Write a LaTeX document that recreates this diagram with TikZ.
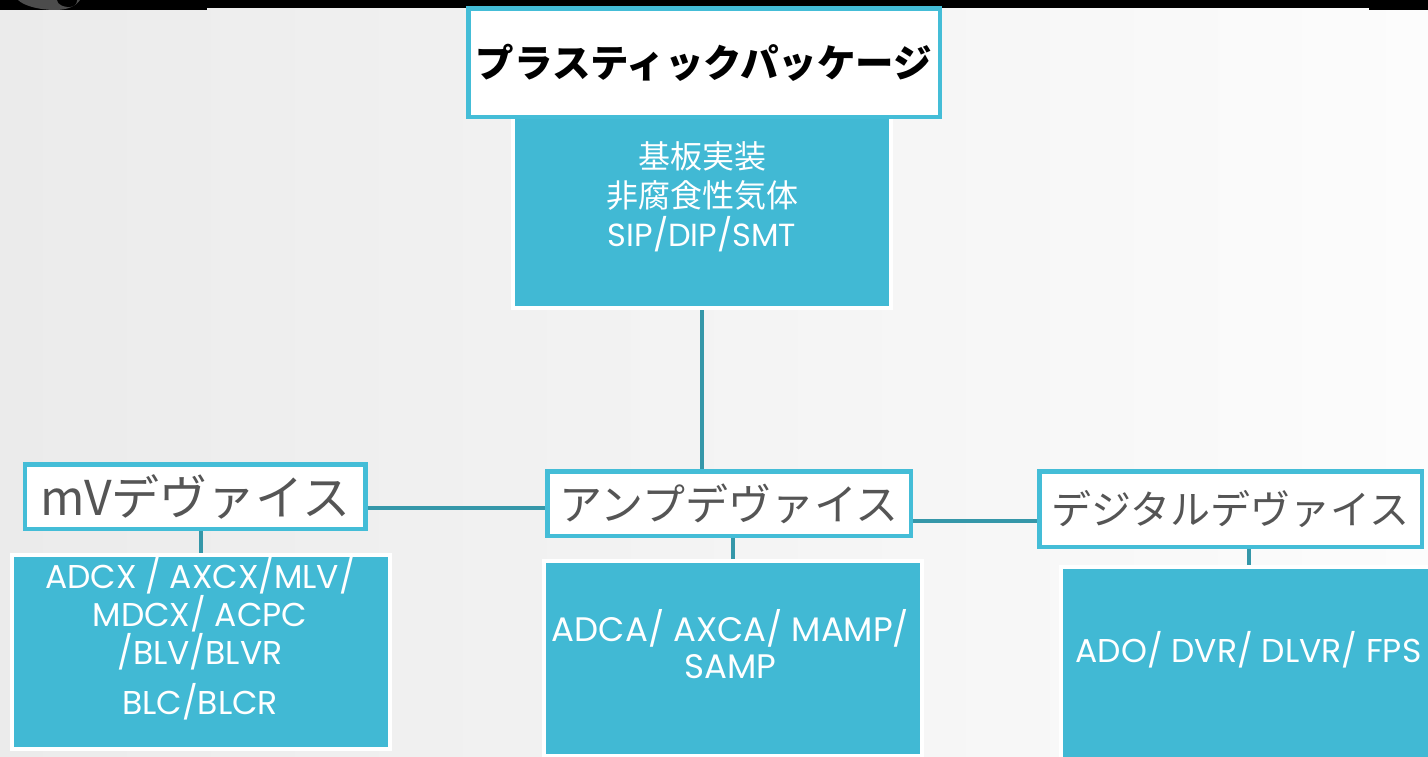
\documentclass[tikz,border=0pt]{standalone}
\usepackage{fontspec}
\newfontfamily\jp{Noto Sans CJK JP}
\newfontfamily\lat{Poppins}
\definecolor{tealfill}{HTML}{41B9D4}
\definecolor{cyanborder}{HTML}{44BDD7}
\definecolor{connteal}{HTML}{3597A9}
\definecolor{lblgray}{HTML}{555555}
\definecolor{bgleft}{HTML}{EBEBEB}
\definecolor{bgright}{HTML}{FCFCFC}
\pgfdeclarelayer{bglayer}
\pgfdeclarelayer{linelayer}
\pgfsetlayers{bglayer,linelayer,main}
\tikzset{
  headbox/.style={rectangle, draw=cyanborder, line width=4.5pt, fill=white, inner sep=0pt},
  bodybox/.style={rectangle, fill=tealfill, preaction={draw=white, line width=8pt}, inner sep=0pt},
  bodytext/.style={text=white, align=center, inner sep=0pt},
  connline/.style={draw=connteal, line width=4.5pt},
}
\begin{document}
\begin{tikzpicture}[x=1pt, y=-1pt]
\useasboundingbox (0,0) rectangle (1428,757);
\begin{pgfonlayer}{bglayer}
  \shade[left color=bgleft, right color=bgright] (0,0) rectangle (1428,757);
  \fill[black] (0,0) rectangle (207,10);
  \fill[black] (207,0) rectangle (1369,8);
  \fill[black] (1369,0) rectangle (1428,10);
  \fill[black!70] (18,0) .. controls (24,6) and (40,10) .. (55,10) .. controls (68,10) and (76,6) .. (80,0) -- cycle;
  \fill[black] (57,0) .. controls (58,5) and (64,7) .. (69,7) .. controls (74,7) and (77,4) .. (77,0) -- cycle;
\end{pgfonlayer}

% body boxes
\node[bodybox, minimum width=374pt, minimum height=189pt] (pkgbody) at (702,211.5) {};
\node[bodybox, minimum width=374pt, minimum height=190pt] (mvbody) at (201,652) {};
\node[bodybox, minimum width=374pt, minimum height=191pt] (ampbody) at (733,658.5) {};
\node[bodybox, minimum width=377pt, minimum height=201pt] (digbody) at (1251.5,669.5) {};

% head boxes
\node[headbox, minimum width=471.5pt, minimum height=108.5pt, font=\jp\bfseries\fontsize{38.5}{40}\selectfont] (pkg) at (704,63) {プラスティックパッケージ};
\node[headbox, minimum width=340.5pt, minimum height=64.5pt, text=lblgray, font=\jp\fontsize{48}{50}\selectfont] (mv) at (195.2,496.5) {mVデヴァイス};
\node[headbox, minimum width=363.5pt, minimum height=64.5pt, text=lblgray, font=\jp\fontsize{43}{45}\selectfont] (amp) at (729,503.5) {アンプデヴァイス};
\node[headbox, minimum width=382.5pt, minimum height=75.5pt, text=lblgray, font=\jp\fontsize{40}{42}\selectfont] (dig) at (1230.5,509) {デジタルデヴァイス};

% body texts
\node[bodytext, font=\fontsize{32}{39}\selectfont] (pkgtext) at (702,197)
  {{\jp 基板実装}\\{\jp 非腐食性気体}\\{\lat SIP/DIP/SMT}};
\node[bodytext, font=\lat\fontsize{33}{36.5}\selectfont] (mvtext) at (200,639)
  {ADCX / AXCX/MLV/\\MDCX/ ACPC\\/BLV/BLVR\\[13pt]BLC/BLCR};
\node[bodytext, font=\lat\fontsize{34}{37}\selectfont] (amptext) at (730.5,644)
  {ADCA/ AXCA/ MAMP/\\SAMP};
\node[bodytext, font=\lat\fontsize{33}{37}\selectfont] (digtext) at (1248.5,650)
  {ADO/ DVR/ DLVR/ FPS};

% connectors
\begin{pgfonlayer}{linelayer}
  \draw[connline] (pkgbody.south) -- (pkgbody.south |- amp.north);
  \draw[connline] ([yshift=-11.5pt]mv.east) -- ([yshift=-11.5pt]mv.east -| amp.west);
  \draw[connline] ([yshift=-17.5pt]amp.east) -- ([yshift=-17.5pt]amp.east -| dig.west);
  \draw[connline] (mvbody.north) -- (mvbody.north |- mv.south);
  \draw[connline] (ampbody.north) -- (ampbody.north |- amp.south);
  \draw[connline] ([xshift=-2.5pt]digbody.north) -- ([xshift=-2.5pt]digbody.north |- dig.south);
\end{pgfonlayer}
\end{tikzpicture}
\end{document}
